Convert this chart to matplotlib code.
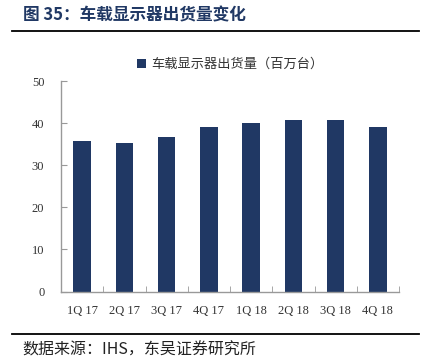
import numpy as np
import matplotlib
matplotlib.use("Agg")
import matplotlib.pyplot as plt
from matplotlib.lines import Line2D

quarters = ["1Q 17", "2Q 17", "3Q 17", "4Q 17", "1Q 18", "2Q 18", "3Q 18", "4Q 18"]
shipments = [35.8, 35.3, 36.6, 39.1, 40.1, 40.7, 40.7, 39.1]
series_name = "车载显示器出货量（百万台）"
title = "图 35：车载显示器出货量变化"
source = "数据来源：IHS，东吴证券研究所"

navy = "#203864"
cjk = ["Noto Sans CJK SC", "DejaVu Sans"]

fig = plt.figure(figsize=(4.28, 3.64), dpi=100)
ax = fig.add_axes([61 / 428, 1 - 291.5 / 364, 338 / 428, 210.5 / 364])

x = np.arange(len(quarters))
ax.bar(x, shipments, width=0.41, color=navy, label=series_name)

ax.set_xlim(-0.5, len(quarters) - 0.5)
ax.set_ylim(0, 50)
ax.set_yticks(np.arange(0, 51, 10))
ax.set_xticks(x)
ax.set_xticklabels(quarters)
ax.set_xticks(np.arange(-0.5, len(quarters)), minor=True)
ax.tick_params(axis="x", which="major", length=0, pad=10)
ax.tick_params(axis="x", which="minor", direction="in", length=4, color="#999999")
ax.tick_params(axis="y", direction="in", length=4, color="#999999", pad=12)
for lab in ax.get_xticklabels() + ax.get_yticklabels():
    lab.set_fontfamily("Liberation Serif")
    lab.set_fontsize(9)
    lab.set_color("#333333")

for s in ["top", "right"]:
    ax.spines[s].set_visible(False)
for s in ["left", "bottom"]:
    ax.spines[s].set_color("#999999")
    ax.spines[s].set_linewidth(1)

leg = ax.legend(loc="upper center", bbox_to_anchor=(0.5, 1.165), frameon=False,
                handlelength=0.7, handleheight=0.7, handletextpad=0.4,
                prop={"family": cjk, "size": 9.5})
for t in leg.get_texts():
    t.set_color("#333333")

fig.text(23 / 428, 1 - 15 / 364, title, family=cjk, fontsize=12, fontweight="bold",
         color=navy, va="center", ha="left")
fig.add_artist(Line2D([12 / 428, 419 / 428], [1 - 31 / 364] * 2, color="black", lw=1.3))
fig.add_artist(Line2D([12 / 428, 419 / 428], [1 - 334 / 364] * 2, color="black", lw=1.3))
fig.text(22 / 428, 1 - 350 / 364, source, family=cjk,
         fontsize=11.5, color="#222222", va="center", ha="left")

fig.savefig("out.png", dpi=100)
